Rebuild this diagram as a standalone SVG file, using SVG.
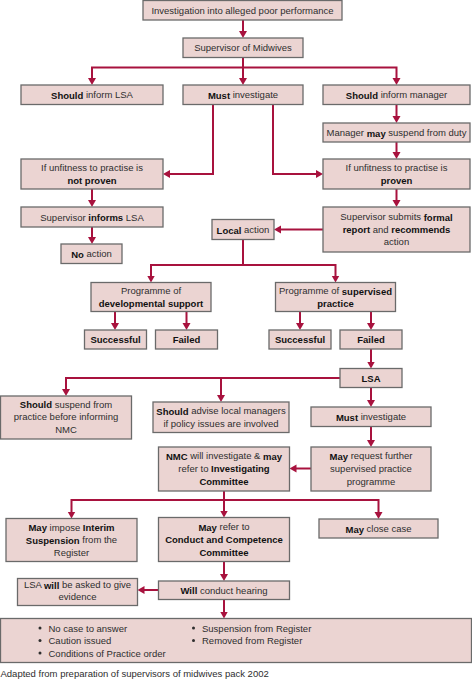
<svg xmlns="http://www.w3.org/2000/svg" width="472" height="680" viewBox="0 0 472 680">
<style>
rect.b{fill:#ebd4d2;stroke:#6a6a6a;stroke-width:1.3}
text{font-family:"Liberation Sans",Arial,sans-serif;font-size:9.5px;fill:#2e2e2e;text-anchor:middle;dominant-baseline:central}
.k{font-weight:bold;fill:#111}
.s{text-anchor:start}
.c{fill:none;stroke:#a8123e;stroke-width:2;marker-end:url(#a)}
.dot{fill:#2e2e2e}
</style>
<defs>
<marker id="a" markerUnits="userSpaceOnUse" markerWidth="8" markerHeight="9" refX="3" refY="4.5" orient="auto"><path d="M0,0.5 L7,4.5 L0,8.5z" fill="#a8123e"/></marker>
</defs>
<rect width="472" height="680" fill="#fff"/>
<g id="connectors">
<path class="c" d="M243,20 V34"/>
<path class="c" d="M243,57.5 V81"/>
<path class="c" d="M243,67.5 H92 V81"/>
<path class="c" d="M243,67.5 H396.5 V81"/>
<path class="c" d="M396.5,104.5 V119"/>
<path class="c" d="M213,104.5 V174 H167"/>
<path class="c" d="M273,104.5 V174 H319"/>
<path class="c" d="M396.5,142 V155"/>
<path class="c" d="M92,189 V203"/>
<path class="c" d="M92,227 V240"/>
<path class="c" d="M396.5,189 V203"/>
<path class="c" d="M323,229.5 H278"/>
<path class="c" d="M243,239.5 V265 H151 V278.5"/>
<path class="c" d="M243,265 H335.5 V278.5"/>
<path class="c" d="M115,311.5 V326"/>
<path class="c" d="M186.5,311.5 V326"/>
<path class="c" d="M300,311.5 V326"/>
<path class="c" d="M371,311.5 V326"/>
<path class="c" d="M371,349 V364.5"/>
<path class="c" d="M340,378 H66 V392"/>
<path class="c" d="M221,378 V398"/>
<path class="c" d="M371,387.5 V403"/>
<path class="c" d="M371,426.5 V443"/>
<path class="c" d="M311,468.5 H293.5"/>
<path class="c" d="M224,491 V500 H71.5 V514.5"/>
<path class="c" d="M224,491 V513.5"/>
<path class="c" d="M224,500 H378.5 V515"/>
<path class="c" d="M224,561.5 V577"/>
<path class="c" d="M158.5,590 H141.5"/>
<path class="c" d="M224,599.5 V614.5"/>
</g>
<g id="n-investigation"><rect class="b" x="143" y="0.5" width="199" height="19.5"/><text x="242.5" y="10.3">Investigation into alleged poor performance</text></g>
<g id="n-supervisor"><rect class="b" x="183" y="38" width="120" height="19.5"/><text x="243" y="47.8">Supervisor of Midwives</text></g>
<g id="n-inform-lsa"><rect class="b" x="21" y="85" width="142" height="19.5"/><text x="92" y="94.8"><tspan class="k">Should</tspan> inform LSA</text></g>
<g id="n-must-investigate"><rect class="b" x="183" y="85" width="120" height="19.5"/><text x="243" y="94.8"><tspan class="k">Must</tspan> investigate</text></g>
<g id="n-inform-manager"><rect class="b" x="323" y="85" width="147" height="19.5"/><text x="396.5" y="94.8"><tspan class="k">Should</tspan> inform manager</text></g>
<g id="n-manager-suspend"><rect class="b" x="323" y="123" width="147" height="19"/><text x="396.5" y="132.5">Manager <tspan class="k">may</tspan> suspend from duty</text></g>
<g id="n-not-proven"><rect class="b" x="21" y="159" width="142" height="30"/><text x="92" y="167.7">If unfitness to practise is</text><text x="92" y="180.5" class="k">not proven</text></g>
<g id="n-proven"><rect class="b" x="323" y="159" width="147" height="30"/><text x="396.5" y="167.7">If unfitness to practise is</text><text x="396.5" y="180.5" class="k">proven</text></g>
<g id="n-informs-lsa"><rect class="b" x="21" y="207" width="142" height="20"/><text x="92" y="217">Supervisor <tspan class="k">informs</tspan> LSA</text></g>
<g id="n-no-action"><rect class="b" x="61" y="244" width="61" height="19.5"/><text x="91.5" y="253.8"><tspan class="k">No</tspan> action</text></g>
<g id="n-report"><rect class="b" x="323" y="207" width="147" height="45"/><text x="396.5" y="216.7">Supervisor submits <tspan class="k">formal</tspan></text><text x="396.5" y="229.3"><tspan class="k">report</tspan> and <tspan class="k">recommends</tspan></text><text x="396.5" y="241.8">action</text></g>
<g id="n-local"><rect class="b" x="212" y="219.5" width="62" height="20"/><text x="243" y="229.5"><tspan class="k">Local</tspan> action</text></g>
<g id="n-dev-support"><rect class="b" x="91" y="282.5" width="120" height="29"/><text x="151" y="290.8">Programme of</text><text x="151" y="303.3" class="k">developmental support</text></g>
<g id="n-sup-practice"><rect class="b" x="275.5" y="282.5" width="120" height="29"/><text x="335.5" y="290.8">Programme of <tspan class="k">supervised</tspan></text><text x="335.5" y="303.3" class="k">practice</text></g>
<g id="n-successful-1"><rect class="b" x="84.5" y="330" width="62" height="19"/><text x="115.5" y="339.5" class="k">Successful</text></g>
<g id="n-failed-1"><rect class="b" x="155.5" y="330" width="62" height="19"/><text x="186.5" y="339.5" class="k">Failed</text></g>
<g id="n-successful-2"><rect class="b" x="269" y="330" width="62" height="19"/><text x="300" y="339.5" class="k">Successful</text></g>
<g id="n-failed-2"><rect class="b" x="340" y="330" width="62" height="19"/><text x="371" y="339.5" class="k">Failed</text></g>
<g id="n-lsa"><rect class="b" x="340" y="368.5" width="62" height="19"/><text x="371" y="378" class="k">LSA</text></g>
<g id="n-suspend-practice"><rect class="b" x="0.5" y="396" width="131" height="43"/><text x="66" y="404.2"><tspan class="k">Should</tspan> suspend from</text><text x="66" y="416.7">practice before informing</text><text x="66" y="429.2">NMC</text></g>
<g id="n-advise"><rect class="b" x="153" y="402" width="136" height="30.5"/><text x="221" y="410.8"><tspan class="k">Should</tspan> advise local managers</text><text x="221" y="423.4">if policy issues are involved</text></g>
<g id="n-must-investigate-2"><rect class="b" x="311" y="407" width="120" height="19.5"/><text x="371" y="416.8"><tspan class="k">Must</tspan> investigate</text></g>
<g id="n-may-request"><rect class="b" x="311" y="447" width="120" height="44"/><text x="371" y="455.7"><tspan class="k">May</tspan> request further</text><text x="371" y="468.3">supervised practice</text><text x="371" y="481">programme</text></g>
<g id="n-nmc"><rect class="b" x="158.5" y="447" width="131" height="44"/><text x="224" y="455.7"><tspan class="k">NMC</tspan> will investigate &amp; <tspan class="k">may</tspan></text><text x="224" y="468.3">refer to <tspan class="k">Investigating</tspan></text><text x="224" y="481" class="k">Committee</text></g>
<g id="n-interim"><rect class="b" x="6" y="518.5" width="131" height="43"/><text x="71.5" y="527.3"><tspan class="k">May</tspan> impose <tspan class="k">Interim</tspan></text><text x="71.5" y="539.5"><tspan class="k">Suspension</tspan> from the</text><text x="71.5" y="552.2">Register</text></g>
<g id="n-conduct"><rect class="b" x="158.5" y="517.5" width="131" height="44"/><text x="224" y="526.7"><tspan class="k">May</tspan> refer to</text><text x="224" y="539.2" class="k">Conduct and Competence</text><text x="224" y="552" class="k">Committee</text></g>
<g id="n-close"><rect class="b" x="319" y="519" width="119" height="19"/><text x="378.5" y="528.5"><tspan class="k">May</tspan> close case</text></g>
<g id="n-lsa-evidence"><rect class="b" x="17.5" y="578.5" width="120" height="27"/><text x="77.5" y="584.5">LSA <tspan class="k">will</tspan> be asked to give</text><text x="77.5" y="596.2">evidence</text></g>
<g id="n-hearing"><rect class="b" x="158.5" y="581" width="131" height="18.5"/><text x="224" y="590.2"><tspan class="k">Will</tspan> conduct hearing</text></g>
<g id="n-outcomes"><rect class="b" x="0.5" y="618.5" width="471" height="44"/>
<circle class="dot" cx="40" cy="628" r="1.5"/><circle class="dot" cx="40" cy="640.5" r="1.5"/><circle class="dot" cx="40" cy="653" r="1.5"/>
<circle class="dot" cx="193.5" cy="628" r="1.5"/><circle class="dot" cx="193.5" cy="640.5" r="1.5"/>
<text x="48.5" y="628" class="s">No case to answer</text>
<text x="48.5" y="640.5" class="s">Caution issued</text>
<text x="48.5" y="653" class="s">Conditions of Practice order</text>
<text x="202" y="628" class="s">Suspension from Register</text>
<text x="202" y="640.5" class="s">Removed from Register</text>
</g>
<text x="0.5" y="673.5" class="s">Adapted from preparation of supervisors of midwives pack 2002</text>
</svg>
